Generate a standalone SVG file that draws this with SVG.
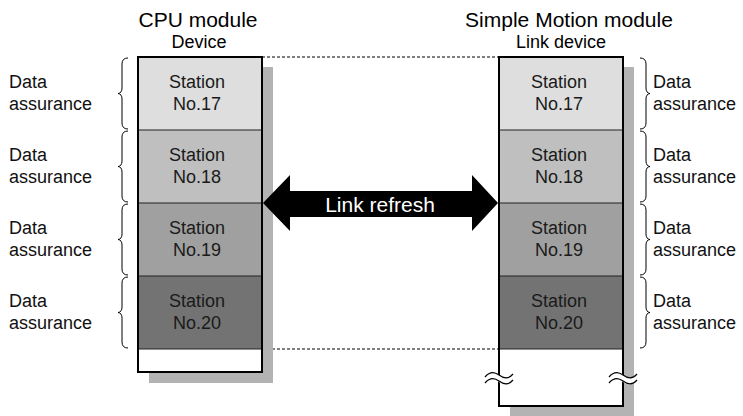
<svg xmlns="http://www.w3.org/2000/svg" width="743" height="416" viewBox="0 0 743 416">
<style>
text{font-family:"Liberation Sans",Arial,sans-serif;fill:#000}
.h{font-size:21px;text-anchor:middle}
.s{font-size:18px;text-anchor:middle}
.st{font-size:18px;text-anchor:middle;fill:#1a1a1a}
.d{font-size:18px;fill:#111}
.shadow{fill:#b3b3b3}
.frame{fill:none;stroke:#000;stroke-width:2}
.sep{stroke:#222;stroke-width:1}
.r17{fill:#dedede}.r18{fill:#bfbfbf}.r19{fill:#a0a0a0}.r20{fill:#737373}
.brace{fill:none;stroke:#000;stroke-width:1}
.dash{stroke:#000;stroke-width:1;stroke-dasharray:3 2;fill:none}
.brk{fill:#fff;stroke:none}
.brkl{fill:none;stroke:#000;stroke-width:1.2}
</style>
<defs>
<path id="braceL" class="brace" d="M128,0 Q122,0 122,6 L122,30 Q122,35 118,35.5 Q122,36 122,41 L122,65 Q122,71 128,71"/>
<path id="braceR" class="brace" d="M640,0 Q646,0 646,6 L646,30 Q646,35 650,35.5 Q646,36 646,41 L646,65 Q646,71 640,71"/>
</defs>

<g id="titles">
<text class="h" x="198" y="27">CPU module</text>
<text class="s" x="199" y="48">Device</text>
<text class="h" x="569" y="27">Simple Motion module</text>
<text class="s" x="561" y="48">Link device</text>
</g>

<g id="connectors">
<line class="dash" x1="262" y1="57" x2="499" y2="57"/>
<line class="dash" x1="262" y1="349" x2="499" y2="349"/>
</g>

<g id="cpu-device">
<rect class="shadow" x="149" y="67" width="124" height="316"/>
<rect class="r17" x="138" y="57" width="124" height="73"/>
<rect class="r18" x="138" y="130" width="124" height="73"/>
<rect class="r19" x="138" y="203" width="124" height="73"/>
<rect class="r20" x="138" y="276" width="124" height="73"/>
<rect fill="#fff" x="138" y="349" width="124" height="23"/>
<line class="sep" x1="138" y1="130" x2="262" y2="130"/>
<line class="sep" x1="138" y1="203" x2="262" y2="203"/>
<line class="sep" x1="138" y1="276" x2="262" y2="276"/>
<line class="sep" x1="138" y1="349" x2="262" y2="349"/>
<rect class="frame" x="138" y="57" width="124" height="315"/>
<text class="st" x="197" y="88">Station</text><text class="st" x="197" y="110">No.17</text>
<text class="st" x="197" y="161">Station</text><text class="st" x="197" y="183">No.18</text>
<text class="st" x="197" y="234">Station</text><text class="st" x="197" y="256">No.19</text>
<text class="st" x="197" y="307">Station</text><text class="st" x="197" y="329">No.20</text>
</g>

<g id="motion-link-device">
<rect class="shadow" x="510" y="67" width="124" height="349"/>
<rect class="r17" x="499" y="57" width="124" height="73"/>
<rect class="r18" x="499" y="130" width="124" height="73"/>
<rect class="r19" x="499" y="203" width="124" height="73"/>
<rect class="r20" x="499" y="276" width="124" height="73"/>
<rect fill="#fff" x="499" y="349" width="124" height="57"/>
<line class="sep" x1="499" y1="130" x2="623" y2="130"/>
<line class="sep" x1="499" y1="203" x2="623" y2="203"/>
<line class="sep" x1="499" y1="276" x2="623" y2="276"/>
<line class="sep" x1="499" y1="349" x2="623" y2="349"/>
<rect class="frame" x="499" y="57" width="124" height="349"/>
<text class="st" x="559" y="88">Station</text><text class="st" x="559" y="110">No.17</text>
<text class="st" x="559" y="161">Station</text><text class="st" x="559" y="183">No.18</text>
<text class="st" x="559" y="234">Station</text><text class="st" x="559" y="256">No.19</text>
<text class="st" x="559" y="307">Station</text><text class="st" x="559" y="329">No.20</text>
<path class="brk" d="M485,377 C490,371 495,372 499,375 S508,380 513,374 L513,380 C508,386 503,385 499,382 S490,377 485,383 Z"/>
<path class="brkl" d="M485,377 C490,371 495,372 499,375 S508,380 513,374 M485,383 C490,377 495,378 499,381 S508,386 513,380"/>
<path class="brk" d="M609,377 C614,371 619,372 623,375 S632,380 637,374 L637,380 C632,386 627,385 623,382 S614,377 609,383 Z"/>
<path class="brkl" d="M609,377 C614,371 619,372 623,375 S632,380 637,374 M609,383 C614,377 619,378 623,381 S632,386 637,380"/>
</g>

<g id="left-assurance">
<use href="#braceL" y="58"/><use href="#braceL" y="131"/><use href="#braceL" y="204"/><use href="#braceL" y="277"/>
<text class="d" x="9" y="88">Data</text><text class="d" x="9" y="110">assurance</text>
<text class="d" x="9" y="161">Data</text><text class="d" x="9" y="183">assurance</text>
<text class="d" x="9" y="234">Data</text><text class="d" x="9" y="256">assurance</text>
<text class="d" x="9" y="307">Data</text><text class="d" x="9" y="329">assurance</text>
</g>

<g id="right-assurance">
<use href="#braceR" y="58"/><use href="#braceR" y="131"/><use href="#braceR" y="204"/><use href="#braceR" y="277"/>
<text class="d" x="653" y="88">Data</text><text class="d" x="653" y="110">assurance</text>
<text class="d" x="653" y="161">Data</text><text class="d" x="653" y="183">assurance</text>
<text class="d" x="653" y="234">Data</text><text class="d" x="653" y="256">assurance</text>
<text class="d" x="653" y="307">Data</text><text class="d" x="653" y="329">assurance</text>
</g>

<g id="link-refresh">
<polygon fill="#000" points="263,203 290,175 290,191 472,191 472,175 498,203 472,231 472,217 290,217 290,231"/>
<text x="380" y="212" style="font-size:21px;text-anchor:middle;fill:#fff">Link refresh</text>
</g>
</svg>
